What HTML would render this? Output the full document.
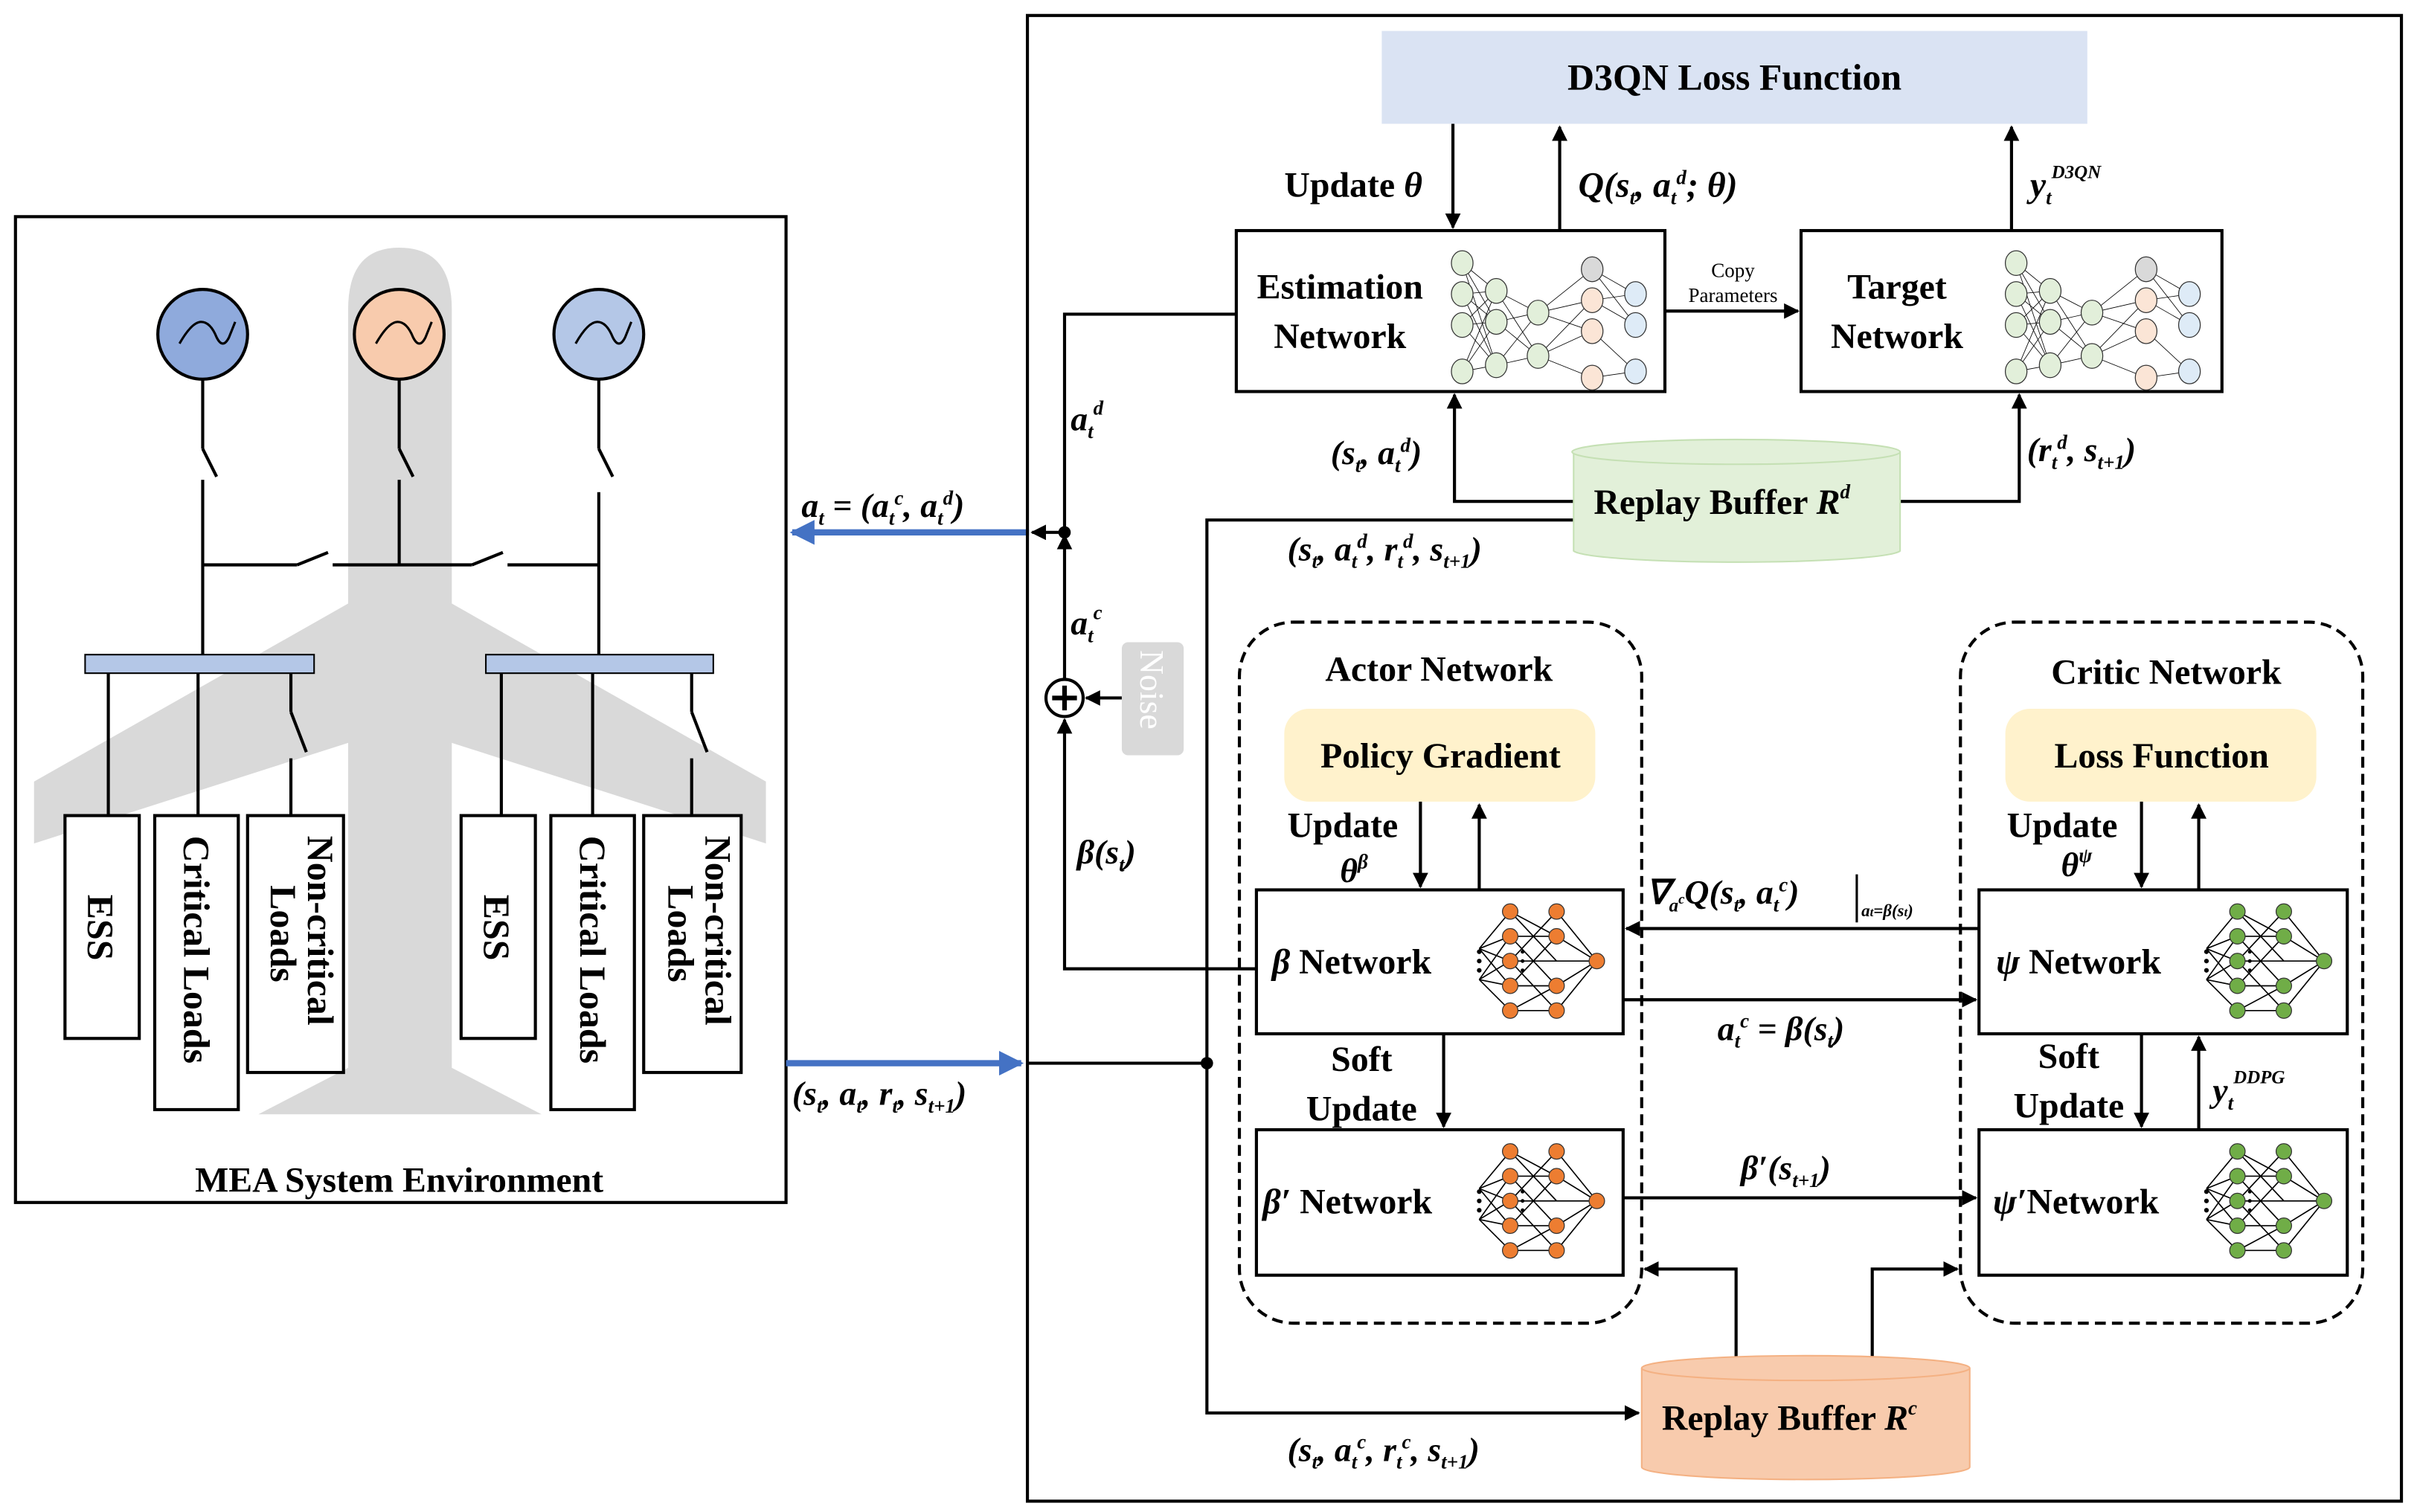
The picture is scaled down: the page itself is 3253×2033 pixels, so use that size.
<!DOCTYPE html>
<html><head><meta charset="utf-8"><style>
html,body{margin:0;padding:0;background:#fff}
svg{display:block}
text{font-family:"Liberation Serif",serif;font-weight:bold;fill:#000}
.i{font-style:italic}
</style></head><body>
<svg width="3253" height="2033" viewBox="0 0 1564 977" preserveAspectRatio="none" xmlns="http://www.w3.org/2000/svg">
<defs>
<marker id="a" viewBox="0 0 10 10" refX="9" refY="5" markerWidth="5" markerHeight="5" orient="auto"><path d="M0,0L10,5L0,10z" fill="#000"/></marker>
<marker id="b" viewBox="0 0 10 10" refX="9" refY="5" markerWidth="4" markerHeight="4" orient="auto"><path d="M0,0L10,5L0,10z" fill="#4472c4"/></marker>
<g id="dqn">
<g stroke="#000" stroke-width="0.4">
<path d="M8,10L30,28M8,10L30,48M8,10L30,76M8,30L30,28M8,30L30,48M8,30L30,76M8,50L30,28M8,50L30,48M8,50L30,76M8,80L30,28M8,80L30,48M8,80L30,76M30,28L57,42M30,48L57,42M30,76L57,42M30,28L57,70M30,48L57,70M30,76L57,70M57,42L92,14M57,42L92,34M57,42L92,54M57,70L92,34M57,70L92,54M57,70L92,84M92,14L120,30M92,34L120,50M92,54L120,80M92,84L120,80M92,14L120,50M92,34L120,30"/>
</g>
<g stroke="#333" stroke-width="0.6">
<ellipse cx="8" cy="10" rx="7" ry="8" fill="#e2efda"/><ellipse cx="8" cy="30" rx="7" ry="8" fill="#e2efda"/><ellipse cx="8" cy="50" rx="7" ry="8" fill="#e2efda"/><ellipse cx="8" cy="80" rx="7" ry="8" fill="#e2efda"/>
<ellipse cx="30" cy="28" rx="7" ry="8" fill="#e2efda"/><ellipse cx="30" cy="48" rx="7" ry="8" fill="#e2efda"/><ellipse cx="30" cy="76" rx="7" ry="8" fill="#e2efda"/>
<ellipse cx="57" cy="42" rx="7" ry="8" fill="#e2efda"/><ellipse cx="57" cy="70" rx="7" ry="8" fill="#e2efda"/>
<ellipse cx="92" cy="14" rx="7" ry="8" fill="#d9d9d9"/><ellipse cx="92" cy="34" rx="7" ry="8" fill="#fbe5d6"/><ellipse cx="92" cy="54" rx="7" ry="8" fill="#fbe5d6"/><ellipse cx="92" cy="84" rx="7" ry="8" fill="#fbe5d6"/>
<ellipse cx="120" cy="30" rx="7" ry="8" fill="#deebf7"/><ellipse cx="120" cy="50" rx="7" ry="8" fill="#deebf7"/><ellipse cx="120" cy="80" rx="7" ry="8" fill="#deebf7"/>
</g></g>
<g id="ann">
<g stroke="#000" stroke-width="0.8">
<path d="M6,30L26,6M6,30L26,22M6,30L26,38M6,30L26,54M6,50L26,22M6,50L26,38M6,50L26,54M6,50L26,70M26,6L56,22M26,22L56,22M26,38L56,38M26,54L56,54M26,70L56,70M26,6L56,38M26,70L56,54M26,22L56,54M26,54L56,22M56,22L82,38M56,38L82,38M56,54L82,38M56,70L82,38M56,6L82,38M26,38L56,6M26,38L56,70"/>
</g>
<g stroke="#333" stroke-width="0.6" fill="currentColor">
<circle cx="26" cy="6" r="5"/><circle cx="26" cy="22" r="5"/><circle cx="26" cy="38" r="5"/><circle cx="26" cy="54" r="5"/><circle cx="26" cy="70" r="5"/>
<circle cx="56" cy="6" r="5"/><circle cx="56" cy="22" r="5"/><circle cx="56" cy="54" r="5"/><circle cx="56" cy="70" r="5"/>
<circle cx="82" cy="38" r="5"/>
</g>
<g fill="#000"><circle cx="6" cy="32" r="1.5"/><circle cx="6" cy="38" r="1.5"/><circle cx="6" cy="44" r="1.5"/><circle cx="34" cy="32" r="1.2"/><circle cx="34" cy="38" r="1.2"/><circle cx="34" cy="44" r="1.2"/></g>
</g>
</defs>

<!-- LEFT -->
<rect x="10" y="140" width="498" height="637" fill="#fff" stroke="#000" stroke-width="2"/>
<path d="M225,200 Q225,160 258,160 Q292,160 292,200 L292,390 L495,505 L495,545 L292,480 L292,690 L350,720 L167,720 L225,690 L225,480 L22,545 L22,505 L225,390Z" fill="#d9d9d9"/>
<g stroke="#000" stroke-width="2" fill="none">
<line x1="131" y1="245" x2="131" y2="290"/><line x1="131" y1="290" x2="140" y2="308"/><line x1="131" y1="310" x2="131" y2="423"/>
<line x1="258" y1="245" x2="258" y2="290"/><line x1="258" y1="290" x2="267" y2="308"/><line x1="258" y1="310" x2="258" y2="365"/>
<line x1="387" y1="245" x2="387" y2="290"/><line x1="387" y1="290" x2="396" y2="308"/><line x1="387" y1="318" x2="387" y2="423"/>
<line x1="131" y1="365" x2="192" y2="365"/><line x1="192" y1="365" x2="212" y2="357"/><line x1="215" y1="365" x2="305" y2="365"/><line x1="305" y1="365" x2="325" y2="357"/><line x1="328" y1="365" x2="387" y2="365"/>
<line x1="70" y1="435" x2="70" y2="527"/><line x1="128" y1="435" x2="128" y2="527"/><line x1="188" y1="435" x2="188" y2="460"/><line x1="188" y1="460" x2="198" y2="486"/><line x1="188" y1="490" x2="188" y2="527"/>
<line x1="324" y1="435" x2="324" y2="527"/><line x1="383" y1="435" x2="383" y2="527"/><line x1="447" y1="435" x2="447" y2="460"/><line x1="447" y1="460" x2="457" y2="486"/><line x1="447" y1="490" x2="447" y2="527"/>
</g>
<g stroke="#000" stroke-width="2">
<circle cx="131" cy="216" r="29" fill="#8faadc"/><circle cx="258" cy="216" r="29" fill="#f8cbad"/><circle cx="387" cy="216" r="29" fill="#b4c7e7"/>
</g>
<g stroke="#000" stroke-width="1.5" fill="none">
<path d="M116,222 Q124,208 130,208 Q136,208 140,218 Q144,226 148,218 L152,208"/>
<path d="M243,222 Q251,208 257,208 Q263,208 267,218 Q271,226 275,218 L279,208"/>
<path d="M372,222 Q380,208 386,208 Q392,208 396,218 Q400,226 404,218 L408,208"/>
</g>
<rect x="55" y="423" width="148" height="12" fill="#b4c7e7" stroke="#000"/>
<rect x="314" y="423" width="147" height="12" fill="#b4c7e7" stroke="#000"/>
<g fill="#fff" stroke="#000" stroke-width="2">
<rect x="42" y="527" width="48" height="144"/><rect x="100" y="527" width="54" height="190"/><rect x="160" y="527" width="62" height="166"/>
<rect x="298" y="527" width="48" height="144"/><rect x="356" y="527" width="54" height="190"/><rect x="416" y="527" width="63" height="166"/>
</g>
<g font-size="24">
<text transform="translate(57,578) rotate(90)">ESS</text>
<text transform="translate(119,540) rotate(90)">Critical Loads</text>
<text transform="translate(199,540) rotate(90)">Non-critical</text>
<text transform="translate(175,572) rotate(90)">Loads</text>
<text transform="translate(313,578) rotate(90)">ESS</text>
<text transform="translate(375,540) rotate(90)">Critical Loads</text>
<text transform="translate(456,540) rotate(90)">Non-critical</text>
<text transform="translate(432,572) rotate(90)">Loads</text>
</g>
<text x="258" y="770" font-size="23" text-anchor="middle">MEA System Environment</text>

<!-- blue arrows -->
<line x1="665" y1="344" x2="512" y2="344" stroke="#4472c4" stroke-width="4" marker-end="url(#b)"/>
<line x1="508" y1="687" x2="660" y2="687" stroke="#4472c4" stroke-width="4" marker-end="url(#b)"/>
<text x="518" y="334" font-size="22" class="i">a<tspan font-size="13" dy="5">t</tspan><tspan dy="-5"> = (a</tspan><tspan font-size="13" dy="5">t</tspan><tspan font-size="13" dy="-13">c</tspan><tspan dy="8">, a</tspan><tspan font-size="13" dy="5">t</tspan><tspan font-size="13" dy="-13">d</tspan><tspan dy="8">)</tspan></text>
<text x="512" y="714" font-size="22" class="i">(s<tspan font-size="13" dy="5">t</tspan><tspan dy="-5">, a</tspan><tspan font-size="13" dy="5">t</tspan><tspan dy="-5">, r</tspan><tspan font-size="13" dy="5">t</tspan><tspan dy="-5">, s</tspan><tspan font-size="13" dy="5">t+1</tspan><tspan dy="-5">)</tspan></text>

<!-- RIGHT -->
<rect x="664" y="10" width="888" height="960" fill="none" stroke="#000" stroke-width="2"/>
<rect x="893" y="20" width="456" height="60" fill="#dae3f3"/>
<text x="1121" y="58" font-size="24" text-anchor="middle">D3QN Loss Function</text>

<rect x="799" y="149" width="277" height="104" fill="#fff" stroke="#000" stroke-width="2"/>
<text x="866" y="193" font-size="23" text-anchor="middle">Estimation</text>
<text x="866" y="225" font-size="23" text-anchor="middle">Network</text>
<use href="#dqn" x="937" y="160"/>
<rect x="1164" y="149" width="272" height="104" fill="#fff" stroke="#000" stroke-width="2"/>
<text x="1226" y="193" font-size="23" text-anchor="middle">Target</text>
<text x="1226" y="225" font-size="23" text-anchor="middle">Network</text>
<use href="#dqn" x="1295" y="160"/>
<line x1="1076" y1="201" x2="1162" y2="201" stroke="#000" stroke-width="2" marker-end="url(#a)"/>
<text x="1120" y="179" font-size="13" font-weight="normal" text-anchor="middle" style="font-weight:normal">Copy</text>
<text x="1120" y="195" font-size="13" text-anchor="middle" style="font-weight:normal">Parameters</text>

<g stroke="#000" stroke-width="2" fill="none">
<line x1="939" y1="80" x2="939" y2="147" marker-end="url(#a)"/>
<line x1="1008" y1="149" x2="1008" y2="82" marker-end="url(#a)"/>
<line x1="1300" y1="149" x2="1300" y2="82" marker-end="url(#a)"/>
<polyline points="1017,324 940,324 940,255" marker-end="url(#a)"/>
<polyline points="1228,324 1305,324 1305,255" marker-end="url(#a)"/>
<polyline points="799,203 688,203 688,342"/>
<line x1="688" y1="344" x2="667" y2="344" marker-end="url(#a)"/>
<polyline points="1017,336 780,336 780,913 1059,913" marker-end="url(#a)"/>
<line x1="664" y1="687" x2="780" y2="687"/>
<line x1="688" y1="439" x2="688" y2="346" marker-end="url(#a)"/>
<line x1="725" y1="451" x2="702" y2="451" marker-end="url(#a)"/>
<polyline points="812,626 688,626 688,465" marker-end="url(#a)"/>
</g>
<circle cx="688" cy="344" r="4" fill="#000"/>
<circle cx="780" cy="687" r="4" fill="#000"/>
<circle cx="688" cy="451" r="12" fill="#fff" stroke="#000" stroke-width="2"/>
<path d="M680,451H696M688,443V459" stroke="#000" stroke-width="3"/>
<rect x="725" y="415" width="40" height="73" rx="4" fill="#d9d9d9"/>
<text transform="translate(737,420) rotate(90)" font-size="22" style="fill:#fff;font-weight:normal">Noise</text>

<text x="830" y="127" font-size="23">Update <tspan class="i">θ</tspan></text>
<text x="1020" y="127" font-size="23" class="i">Q(s<tspan font-size="13" dy="5">t</tspan><tspan dy="-5">, a</tspan><tspan font-size="13" dy="5">t</tspan><tspan font-size="13" dy="-13">d</tspan><tspan dy="8">; θ)</tspan></text>
<text x="1312" y="127" font-size="23" class="i">y<tspan font-size="13" dy="5">t</tspan><tspan font-size="12" dy="-17">D3QN</tspan></text>
<text x="860" y="300" font-size="22" class="i">(s<tspan font-size="13" dy="5">t</tspan><tspan dy="-5">, a</tspan><tspan font-size="13" dy="5">t</tspan><tspan font-size="13" dy="-13">d</tspan><tspan dy="8">)</tspan></text>
<text x="1310" y="298" font-size="22" class="i">(r<tspan font-size="13" dy="5">t</tspan><tspan font-size="13" dy="-13">d</tspan><tspan dy="8">, s</tspan><tspan font-size="13" dy="5">t+1</tspan><tspan dy="-5">)</tspan></text>
<text x="832" y="362" font-size="22" class="i">(s<tspan font-size="13" dy="5">t</tspan><tspan dy="-5">, a</tspan><tspan font-size="13" dy="5">t</tspan><tspan font-size="13" dy="-13">d</tspan><tspan dy="8">, r</tspan><tspan font-size="13" dy="5">t</tspan><tspan font-size="13" dy="-13">d</tspan><tspan dy="8">, s</tspan><tspan font-size="13" dy="5">t+1</tspan><tspan dy="-5">)</tspan></text>
<text x="692" y="278" font-size="22" class="i">a<tspan font-size="13" dy="5">t</tspan><tspan font-size="13" dy="-15">d</tspan></text>
<text x="692" y="410" font-size="22" class="i">a<tspan font-size="13" dy="5">t</tspan><tspan font-size="13" dy="-15">c</tspan></text>
<text x="696" y="558" font-size="22" class="i">β(s<tspan font-size="13" dy="5">t</tspan><tspan dy="-5">)</tspan></text>

<!-- Replay buffer Rd -->
<path d="M1017,292 V356 A106,8 0 0 0 1228,356 V292" fill="#e2f0d9" stroke="#c5e0b4"/>
<ellipse cx="1122" cy="292" rx="106" ry="8" fill="#e2f0d9" stroke="#c5e0b4"/>
<text x="1030" y="332" font-size="23">Replay Buffer <tspan class="i">R</tspan><tspan class="i" font-size="13" dy="-10">d</tspan></text>

<!-- Actor / Critic -->
<rect x="801" y="402" width="260" height="453" rx="35" fill="none" stroke="#000" stroke-width="2" stroke-dasharray="7,4"/>
<rect x="1267" y="402" width="260" height="453" rx="35" fill="none" stroke="#000" stroke-width="2" stroke-dasharray="7,4"/>
<text x="930" y="440" font-size="23" text-anchor="middle">Actor Network</text>
<text x="1400" y="442" font-size="23" text-anchor="middle">Critic Network</text>
<rect x="830" y="458" width="201" height="60" rx="16" fill="#fff2cc"/>
<text x="931" y="496" font-size="23" text-anchor="middle">Policy Gradient</text>
<rect x="1296" y="458" width="201" height="60" rx="16" fill="#fff2cc"/>
<text x="1397" y="496" font-size="23" text-anchor="middle">Loss Function</text>

<g fill="#fff" stroke="#000" stroke-width="2">
<rect x="812" y="575" width="237" height="93"/><rect x="812" y="730" width="237" height="94"/>
<rect x="1279" y="575" width="238" height="93"/><rect x="1279" y="730" width="238" height="94"/>
</g>
<use href="#ann" x="950" y="583" style="color:#ed7d31"/>
<use href="#ann" x="950" y="738" style="color:#ed7d31"/>
<use href="#ann" x="1420" y="583" style="color:#70ad47"/>
<use href="#ann" x="1420" y="738" style="color:#70ad47"/>
<text x="822" y="629" font-size="23"><tspan class="i">β</tspan> Network</text>
<text x="816" y="784" font-size="23"><tspan class="i">β′</tspan> Network</text>
<text x="1290" y="629" font-size="23"><tspan class="i">ψ</tspan> Network</text>
<text x="1288" y="784" font-size="23"><tspan class="i">ψ′</tspan>Network</text>

<g stroke="#000" stroke-width="2" fill="none">
<line x1="918" y1="518" x2="918" y2="573" marker-end="url(#a)"/>
<line x1="956" y1="575" x2="956" y2="520" marker-end="url(#a)"/>
<line x1="1384" y1="518" x2="1384" y2="573" marker-end="url(#a)"/>
<line x1="1421" y1="575" x2="1421" y2="520" marker-end="url(#a)"/>
<line x1="933" y1="668" x2="933" y2="728" marker-end="url(#a)"/>
<line x1="1384" y1="668" x2="1384" y2="728" marker-end="url(#a)"/>
<line x1="1421" y1="730" x2="1421" y2="670" marker-end="url(#a)"/>
<line x1="1279" y1="600" x2="1051" y2="600" marker-end="url(#a)"/>
<line x1="1049" y1="646" x2="1277" y2="646" marker-end="url(#a)"/>
<line x1="1049" y1="774" x2="1277" y2="774" marker-end="url(#a)"/>
<polyline points="1122,877 1122,820 1063,820" marker-end="url(#a)"/>
<polyline points="1210,877 1210,820 1265,820" marker-end="url(#a)"/>
</g>
<text x="832" y="541" font-size="23">Update</text>
<text x="866" y="570" font-size="22" class="i">θ<tspan font-size="13" dy="-9">β</tspan></text>
<text x="1297" y="541" font-size="23">Update</text>
<text x="1332" y="566" font-size="22" class="i">θ<tspan font-size="13" dy="-9">ψ</tspan></text>
<text x="880" y="692" font-size="23" text-anchor="middle">Soft</text>
<text x="880" y="724" font-size="23" text-anchor="middle">Update</text>
<text x="1337" y="690" font-size="23" text-anchor="middle">Soft</text>
<text x="1337" y="722" font-size="23" text-anchor="middle">Update</text>
<text x="1430" y="712" font-size="22" class="i">y<tspan font-size="13" dy="5">t</tspan><tspan font-size="12" dy="-17">DDPG</tspan></text>
<text x="1064" y="584" font-size="22" class="i">∇<tspan font-size="12" dy="5">a</tspan><tspan font-size="9" dy="-5">c</tspan><tspan dy="0">Q(s</tspan><tspan font-size="13" dy="5">t</tspan><tspan dy="-5">, a</tspan><tspan font-size="13" dy="5">t</tspan><tspan font-size="13" dy="-13">c</tspan><tspan dy="8">)</tspan></text>
<line x1="1200" y1="565" x2="1200" y2="596" stroke="#000" stroke-width="1.5"/>
<text x="1203" y="592" font-size="11" class="i">a<tspan font-size="8">t</tspan>=β(s<tspan font-size="8">t</tspan>)</text>
<text x="1110" y="672" font-size="22" class="i">a<tspan font-size="13" dy="5">t</tspan><tspan font-size="13" dy="-13">c</tspan><tspan dy="8"> = β(s</tspan><tspan font-size="13" dy="5">t</tspan><tspan dy="-5">)</tspan></text>
<text x="1125" y="762" font-size="22" class="i">β′(s<tspan font-size="13" dy="5">t+1</tspan><tspan dy="-5">)</tspan></text>

<!-- Replay buffer Rc -->
<path d="M1061,884 V948 A106,8 0 0 0 1273,948 V884" fill="#f8cbad" stroke="#f4b183"/>
<ellipse cx="1167" cy="884" rx="106" ry="8" fill="#f8cbad" stroke="#f4b183"/>
<text x="1074" y="924" font-size="23">Replay Buffer <tspan class="i">R</tspan><tspan class="i" font-size="13" dy="-10">c</tspan></text>
<text x="832" y="944" font-size="22" class="i">(s<tspan font-size="13" dy="5">t</tspan><tspan dy="-5">, a</tspan><tspan font-size="13" dy="5">t</tspan><tspan font-size="13" dy="-13">c</tspan><tspan dy="8">, r</tspan><tspan font-size="13" dy="5">t</tspan><tspan font-size="13" dy="-13">c</tspan><tspan dy="8">, s</tspan><tspan font-size="13" dy="5">t+1</tspan><tspan dy="-5">)</tspan></text>
</svg>
</body></html>
